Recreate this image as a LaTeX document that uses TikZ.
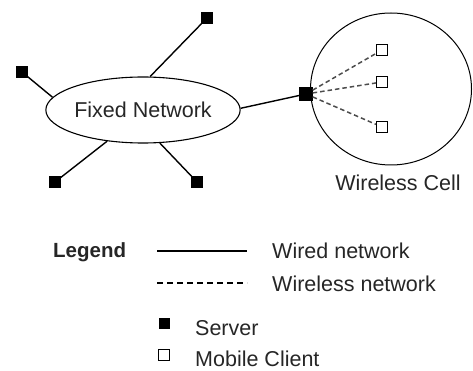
\documentclass[tikz,border=0pt]{standalone}
\usepackage{fontspec}
\setmainfont{Liberation Sans}
\usetikzlibrary{shapes.geometric}
\begin{document}
\begin{tikzpicture}[x=1pt,y=-1pt,
  lbl/.style={font=\fontsize{21.5}{25}\selectfont, inner sep=0pt, text=black!85},
  server/.style={draw, fill=black, minimum size=11pt, inner sep=0pt},
  client/.style={draw, fill=white, line width=1pt, minimum size=11pt, inner sep=0pt},
  wired/.style={line width=1.4pt},
  wireless/.style={line width=1.5pt, dash pattern=on 4.5pt off 3pt, black!70},
]
\useasboundingbox (0,0) rectangle (473,371);
% fixed network
\node[ellipse, draw, line width=1.1pt, minimum width=164pt, minimum height=66pt, lbl] (fn) at (143,110) {Fixed Network};
\node[server] (s1) at (207,18) {};
\node[server] (s2) at (22,72) {};
\node[server] (s3) at (55,182) {};
\node[server] (s4) at (197,182) {};
\node[server, minimum size=13pt] (gw) at (306,94) {};
\draw[wired] (s1) -- (fn.78);
\draw[wired] (s2) -- (fn.172);
\draw[wired] (s3) -- (fn.221);
\draw[wired] (s4) -- (fn.297);
\draw[wired] (fn.1) -- (gw);
% wireless cell
\node[ellipse, draw, line width=1pt, minimum width=161pt, minimum height=152pt, inner sep=0pt] (cell) at (391,89) {};
\node[client] (c1) at (382,50) {};
\node[client] (c2) at (382,82) {};
\node[client] (c3) at (382,127) {};
\draw[wireless] (gw) -- (c1);
\draw[wireless] (gw) -- (c2);
\draw[wireless] (gw) -- (c3);
\node[lbl, anchor=base] (celllbl) at (398,191) {Wireless Cell};
% legend
\node[lbl, font=\fontsize{20.5}{24}\selectfont\bfseries, anchor=base west] (leg) at (53,257) {Legend};
\coordinate (w1) at (157,251);
\coordinate (w2) at (247,251);
\draw[line width=1.3pt] (w1) -- (w2);
\node[lbl, anchor=base west] (wiredlbl) at (272,258) {Wired network};
\coordinate (d1) at (157,283);
\coordinate (d2) at (247,283);
\draw[line width=1.3pt, dash pattern=on 6pt off 4pt] (d1) -- (d2);
\node[lbl, anchor=base west] (wirelesslbl) at (272,291) {Wireless network};
\node[server, minimum size=10pt] (ls) at (164,323) {};
\node[lbl, anchor=base west] (serverlbl) at (195,335) {Server};
\node[client] (lc) at (164,355) {};
\node[lbl, anchor=base west] (clientlbl) at (195,366) {Mobile Client};
\end{tikzpicture}
\end{document}
